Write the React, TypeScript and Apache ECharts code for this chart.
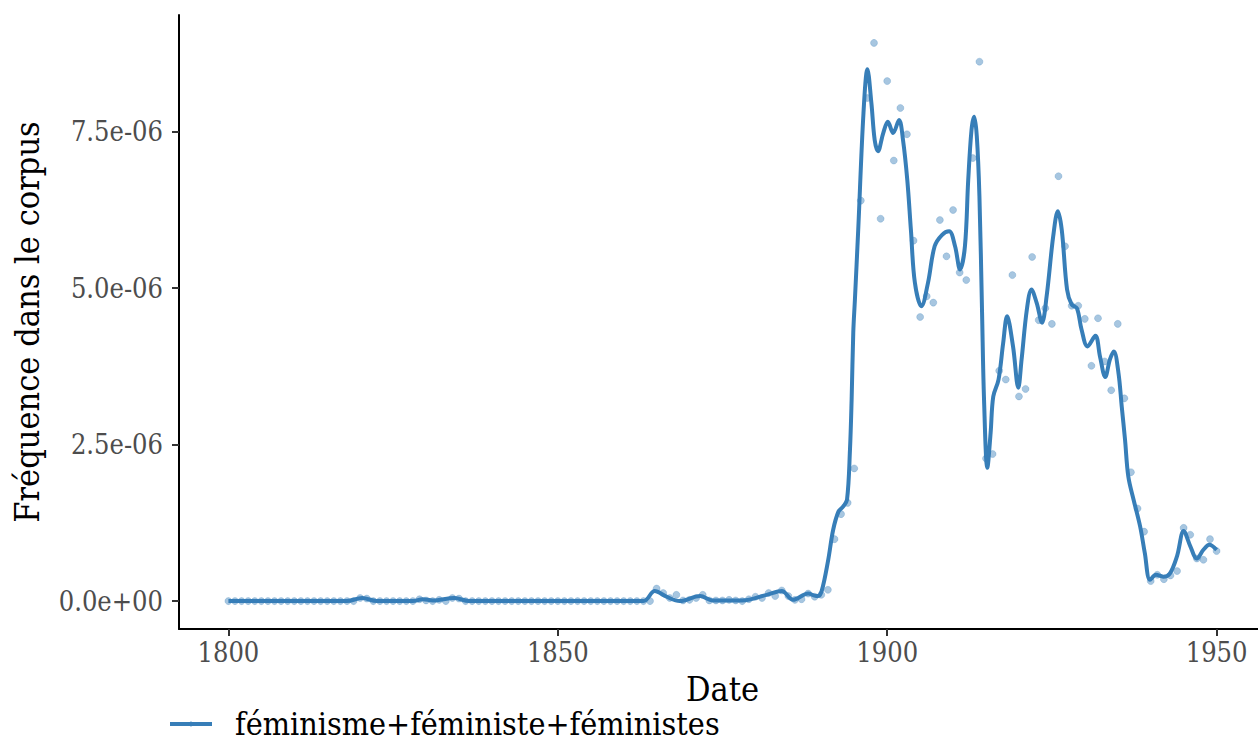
import React, { useEffect, useRef } from "react";
import * as echarts from "echarts";

// Yearly frequency (in millionths) 1800..1950
const START_YEAR = 1800;
const POINT_VALUES: number[] = [
  // 1800-1819
  0, 0, 0, 0, 0, 0, 0, 0, 0, 0, 0, 0, 0, 0, 0, 0, 0, 0, 0, 0,
  // 1820-1821
  0.05, 0.04,
  // 1822-1828
  0, 0, 0, 0, 0, 0, 0,
  // 1829-1835
  0.03, 0.01, 0, 0.02, 0, 0.05, 0.04,
  // 1836-1864
  0, 0, 0, 0, 0, 0, 0, 0, 0, 0, 0, 0, 0, 0, 0, 0, 0, 0, 0, 0, 0, 0, 0, 0, 0, 0, 0, 0, 0,
  // 1865-1874
  0.2, 0.13, 0.05, 0.1, 0.01, 0.02, 0.05, 0.1, 0.01, 0.01,
  // 1875-1884
  0.01, 0.02, 0.01, 0.0, 0.03, 0.07, 0.05, 0.13, 0.08, 0.17,
  // 1885-1894
  0.08, 0.02, 0.03, 0.12, 0.07, 0.1, 0.18, 0.99, 1.39, 1.57,
  // 1895-1904
  2.12, 6.4, 8.04, 8.92, 6.11, 8.31, 7.04, 7.88, 7.46, 5.76,
  // 1905-1914
  4.54, 4.87, 4.77, 6.09, 5.51, 6.25, 5.25, 5.13, 7.08, 8.62,
  // 1915-1924
  2.28, 2.35, 3.68, 3.54, 5.21, 3.27, 3.39, 5.5, 4.49, 4.68,
  // 1925-1934
  4.43, 6.79, 5.67, 4.72, 4.72, 4.51, 3.76, 4.52, 3.83, 3.37,
  // 1935-1944
  4.43, 3.24, 2.06, 1.48, 1.11, 0.32, 0.42, 0.35, 0.41, 0.48,
  // 1945-1950
  1.17, 1.06, 0.68, 0.66, 0.99, 0.8,
];

// Smoothed curve (year, millionths)
const LINE_X: number[] = [
  1800, 1818, 1820.3, 1822.5, 1828, 1829.5, 1831, 1834.3, 1836.5, 1863, 1864.7, 1866.5, 1868.5,
  1871.6, 1873.5, 1878, 1881.7, 1884, 1885.7, 1888, 1889.2, 1889.8, 1890.3, 1891.05, 1891.8,
  1892.6, 1893.3, 1893.9, 1894.35, 1894.6, 1894.85, 1895.1, 1895.6, 1896.4, 1897.0, 1897.6,
  1898.1, 1898.6, 1899.4, 1900.1, 1900.9, 1901.8, 1902.4, 1903.05, 1903.6, 1904.2, 1905.2,
  1906.2, 1907.2, 1908.3, 1909.4, 1910.3, 1911.05, 1911.8, 1912.3, 1912.8, 1913.2, 1913.6,
  1914.0, 1914.4, 1914.7, 1915.2, 1915.7, 1916.1, 1916.9, 1917.6, 1918.2, 1919.1, 1919.9,
  1920.4, 1921.2, 1921.9, 1922.7, 1923.5, 1924.2, 1925.2, 1925.9, 1926.5, 1927.3, 1928.0,
  1928.8, 1929.5, 1930.4, 1931.6, 1932.3, 1933.1, 1933.8, 1934.4, 1935.1, 1935.6, 1936.1,
  1936.6, 1937.4, 1938.4, 1939.1, 1939.9, 1940.8, 1941.9, 1942.9, 1944.0, 1945.0, 1946.0,
  1947.0, 1948.0, 1948.9, 1950,
];
const LINE_Y: number[] = [
  0, 0, 0.05, 0, 0, 0.03, 0.01, 0.05, 0, 0, 0.16, 0.07, 0,
  0.08, 0.01, 0.01, 0.1, 0.16, 0.02, 0.12, 0.08, 0.1, 0.26, 0.66, 1.14,
  1.43, 1.51, 1.62, 2.42, 3.22, 4.29, 4.82, 5.93, 7.8, 8.5, 7.96,
  7.37, 7.19, 7.48, 7.66, 7.48, 7.69, 7.37, 6.73, 5.93, 5.09, 4.71,
  5.09, 5.67, 5.85, 5.91, 5.67, 5.3, 5.67, 6.73, 7.53, 7.74, 7.43,
  6.47, 4.61, 3.22, 2.13, 2.69, 3.27, 3.54, 4.12, 4.55, 4.07, 3.41,
  3.86, 4.66, 4.98, 4.76, 4.45, 4.87, 5.83, 6.23, 5.93, 4.98, 4.74,
  4.68, 4.34, 4.07, 4.24, 3.91, 3.58, 3.86, 3.99, 3.65, 3.11, 2.58,
  1.99, 1.62, 1.19, 0.77, 0.34, 0.42, 0.39, 0.44, 0.72, 1.12, 0.88,
  0.68, 0.82, 0.9, 0.82,
];

const UNIT = 1e-6;
const X_TICKS = [1800, 1850, 1900, 1950];
const Y_TICKS = [0, 2.5e-6, 5e-6, 7.5e-6];
const SERIES_NAME = "féminisme+féministe+féministes";
const X_TITLE = "Date";
const Y_TITLE = "Fréquence dans le corpus";

const COLOR = "#377EB8";
const FONT = "'DejaVu Serif Condensed', 'DejaVu Serif', serif";

function fmtY(v: number): string {
  if (Math.abs(v) < 1e-12) return "0.0e+00";
  const m = v / 1e-6;
  return m.toFixed(1) + "e-06";
}

export default function App() {
  const ref = useRef<HTMLDivElement>(null);
  useEffect(() => {
    if (!ref.current) return;
    const chart = echarts.init(ref.current, undefined, { renderer: "svg" });
    const points = POINT_VALUES.map((v, i) => [START_YEAR + i, v * UNIT]);
    const line = LINE_X.map((x, i) => [x, LINE_Y[i] * UNIT]);
    const maxV = Math.max(...POINT_VALUES) * UNIT;
    const pad = maxV * 0.05;
    chart.setOption({
      animation: false,
      backgroundColor: "#ffffff",
      textStyle: { fontFamily: FONT },
      grid: { left: 179, top: 15, width: 1087, height: 614, containLabel: false },
      legend: {
        data: [{ name: SERIES_NAME }],
        left: 168,
        top: 708,
        padding: 0,
        itemWidth: 42,
        itemHeight: 6,
        lineStyle: { width: 4 },
        textStyle: {
          fontFamily: FONT,
          fontSize: 32,
          lineHeight: 30,
          color: "#000",
          padding: [0, 0, 0, 18],
        },
      },
      xAxis: {
        type: "value",
        min: 1792.5,
        max: 1957.5,
        name: X_TITLE,
        nameLocation: "middle",
        nameGap: 43,
        nameTextStyle: { fontFamily: FONT, fontSize: 34, color: "#000" },
        splitLine: { show: false },
        axisLine: { show: true, onZero: false, lineStyle: { color: "#000", width: 2 } },
        axisTick: {
          show: true,
          length: 7,
          customValues: X_TICKS,
          lineStyle: { color: "#333", width: 2 },
        },
        axisLabel: {
          customValues: X_TICKS,
          margin: 10,
          fontFamily: FONT,
          fontSize: 27,
          color: "#4D4D4D",
          formatter: (v: number) => String(Math.round(v)),
          showMinLabel: true,
          showMaxLabel: true,
        },
      },
      yAxis: {
        type: "value",
        min: -pad,
        max: maxV + pad,
        name: Y_TITLE,
        nameLocation: "middle",
        nameGap: 135,
        nameRotate: 90,
        nameTextStyle: { fontFamily: FONT, fontSize: 34, color: "#000" },
        splitLine: { show: false },
        axisLine: { show: true, onZero: false, lineStyle: { color: "#000", width: 2 } },
        axisTick: {
          show: true,
          length: 7,
          customValues: Y_TICKS,
          lineStyle: { color: "#333", width: 2 },
        },
        axisLabel: {
          customValues: Y_TICKS,
          margin: 16,
          fontFamily: FONT,
          fontSize: 27,
          color: "#4D4D4D",
          formatter: (v: number) => fmtY(v),
        },
      },
      series: [
        {
          name: SERIES_NAME,
          type: "line",
          data: line,
          smooth: 0.35,
          showSymbol: false,
          symbol: "circle",
          symbolSize: 5,
          lineStyle: { color: COLOR, width: 4 },
          itemStyle: { color: COLOR },
          z: 2,
        },
        {
          name: "points",
          type: "scatter",
          data: points,
          symbol: "circle",
          symbolSize: 7,
          itemStyle: {
            color: "rgba(55,126,184,0.55)",
            borderColor: "rgba(55,126,184,0.3)",
            borderWidth: 1,
          },
          z: 3,
        },
      ],
    });
    return () => chart.dispose();
  }, []);
  return (
    <div
      style={{
        position: "absolute",
        left: 0,
        top: 0,
        width: 1258,
        height: 742,
        overflow: "hidden",
        background: "#fff",
      }}
    >
      <div ref={ref} style={{ width: 1270, height: 742 }} />
    </div>
  );
}
